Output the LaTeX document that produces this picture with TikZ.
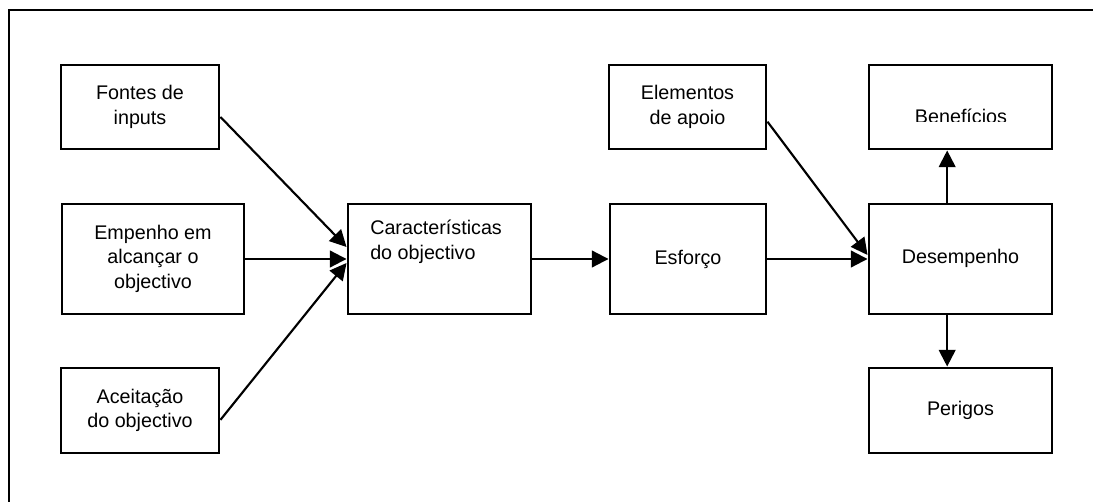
\documentclass[tikz,border=0pt]{standalone}
\usepackage{fontspec}
\setmainfont{Liberation Sans}
\usetikzlibrary{arrows.meta}
\begin{document}
\begin{tikzpicture}[x=0.75pt,y=-0.75pt,
  box/.style={draw,line width=2.2pt,inner sep=0pt,align=center,
    font=\fontsize{14.8}{18.5}\selectfont},
  txt/.style={inner sep=0pt,align=center,font=\fontsize{14.8}{18.5}\selectfont},
  conn/.style={line width=1.6pt,-{Triangle[length=12.5pt,width=12.5pt]}},
  frame/.style={line width=1.6pt}]
\useasboundingbox (0,0) rectangle (1093,502);
\draw[frame] (9,502) -- (9,10) -- (1093,10);
% left column
\node[box,minimum width=118.5pt,minimum height=63pt] (fontes) at (140,107) {Fontes de\\inputs};
\node[box,minimum width=136.5pt,minimum height=82.5pt] (empenho) at (153,259) {\raisebox{2.5pt}{\begin{tabular}{@{}c@{}}Empenho em\\alcançar o\\objectivo\end{tabular}}};
\node[box,minimum width=118.5pt,minimum height=63.75pt] (aceit) at (140,410.5) {Aceitação\\do objectivo};
% middle
\node[box,minimum width=137.25pt,minimum height=82.5pt] (carac) at (439.5,259) {};
\node[txt,align=left,anchor=north west] (caractxt) at (370,220) {Características\\do objectivo};
\node[box,minimum width=117pt,minimum height=82.5pt] (esforco) at (688,259) {Esforço};
\node[box,minimum width=117.75pt,minimum height=63pt] (elem) at (687.5,107) {Elementos\\de apoio};
% right column
\node[box,minimum width=137.25pt,minimum height=63pt] (benef) at (960.5,107) {};
\begin{scope}
\clip (870,66) rectangle (1051,121.5);
\node[txt,anchor=base] (beneftxt) at (961,124) {Benefícios};
\end{scope}
\node[box,minimum width=137.25pt,minimum height=82.5pt] (desemp) at (960.5,259) {\raisebox{3.5pt}{Desempenho}};
\node[box,minimum width=137.25pt,minimum height=63.75pt] (perigos) at (960.5,410.5) {Perigos};
% connectors
\draw[conn] ([yshift=-7.5pt]fontes.east) -- ([yshift=9pt]carac.west);
\draw[conn] (empenho.east) -- (carac.west);
\draw[conn] ([yshift=-7pt]aceit.east) -- ([yshift=-3pt]carac.west);
\draw[conn] (carac.east) -- (esforco.west);
\draw[conn] (esforco.east) -- (desemp.west);
\draw[conn] ([yshift=-11pt]elem.east) -- ([yshift=3pt]desemp.west);
\draw[conn] ([xshift=-10pt]desemp.north) -- ([xshift=-10pt]benef.south);
\draw[conn] ([xshift=-10pt]desemp.south) -- ([xshift=-10pt]perigos.north);
\end{tikzpicture}
\end{document}
